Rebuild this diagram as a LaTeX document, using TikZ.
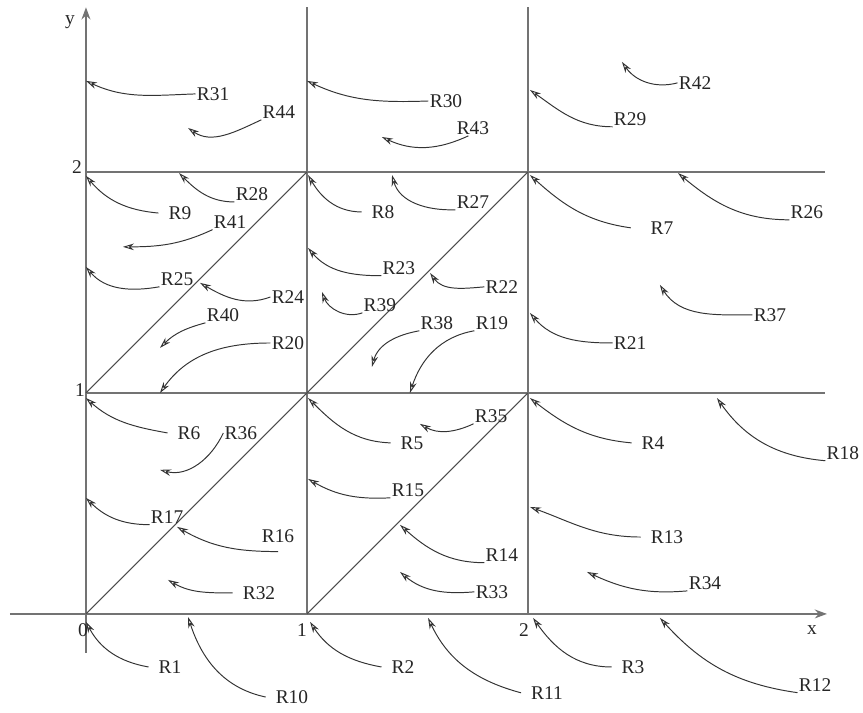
\documentclass[tikz,border=0pt]{standalone}
\usepackage{fontspec}
\setmainfont{Liberation Serif}
\usepackage{tikz}
\usetikzlibrary{arrows.meta}

\begin{document}
\begin{tikzpicture}[x=4cm, y=4cm, font=\normalsize,
  lab/.style={inner sep=0.5pt, text=black!85},
  labw/.style={lab, inner xsep=5pt},
  flow/.style={black!80, line width=0.5pt, -{Stealth[open, length=2mm, width=1.2mm]}},
  gridline/.style={black!55, line width=1pt},
  diag/.style={black!70, line width=0.5pt},
  axis/.style={gridline, -{Stealth[open, length=2.2mm, width=1.6mm]}}]
\useasboundingbox (-0.389,-0.448) rectangle (3.516,2.778);
% axes and grid
\draw[axis] (-0.344,0) -- (3.353,0);
\draw[axis] (0,-0.176) -- (0,2.745);
\draw[gridline] (1,0) -- (1,2.747);
\draw[gridline] (2,0) -- (2,2.747);
\draw[gridline] (0,1) -- (3.344,1);
\draw[gridline] (0,2) -- (3.344,2);
\draw[diag] (0,0) -- (1,1);
\draw[diag] (1,0) -- (2,1);
\draw[diag] (0,1) -- (1,2);
\draw[diag] (1,1) -- (2,2);
\node[lab] (lx) at (3.285,-0.072) {x};
\node[lab] (ly) at (-0.072,2.679) {y};
\node[lab] (o) at (-0.014,-0.072) {0};
\node[lab] (x1) at (0.977,-0.072) {1};
\node[lab] (x2) at (1.982,-0.072) {2};
\node[lab] (y1) at (-0.027,1.014) {1};
\node[lab] (y2) at (-0.041,2.023) {2};
% labels
\node[labw] (r1) at (0.380,-0.240) {R1};
\node[labw] (r2) at (1.434,-0.240) {R2};
\node[labw] (r3) at (2.475,-0.240) {R3};
\node[labw] (r4) at (2.566,0.774) {R4};
\node[labw] (r5) at (1.475,0.774) {R5};
\node[labw] (r6) at (0.466,0.819) {R6};
\node[labw, inner xsep=10pt] (r7) at (2.606,1.747) {R7};
\node[labw] (r8) at (1.344,1.819) {R8};
\node[labw] (r9) at (0.425,1.814) {R9};
\node[labw] (r10) at (0.932,-0.376) {R10};
\node[labw] (r11) at (2.086,-0.357) {R11};
\node[lab] (r12) at (3.299,-0.321) {R12};
\node[labw] (r13) at (2.629,0.348) {R13};
\node[lab] (r14) at (1.882,0.267) {R14};
\node[lab] (r15) at (1.457,0.561) {R15};
\node[lab] (r16) at (0.869,0.353) {R16};
\node[lab] (r17) at (0.367,0.439) {R17};
\node[lab] (r18) at (3.425,0.729) {R18};
\node[lab] (r19) at (1.837,1.317) {R19};
\node[lab] (r20) at (0.914,1.226) {R20};
\node[lab] (r21) at (2.462,1.226) {R21};
\node[lab] (r22) at (1.882,1.480) {R22};
\node[lab] (r23) at (1.416,1.566) {R23};
\node[lab] (r24) at (0.914,1.434) {R24};
\node[lab] (r25) at (0.412,1.516) {R25};
\node[lab] (r26) at (3.262,1.819) {R26};
\node[lab] (r27) at (1.751,1.864) {R27};
\node[lab] (r28) at (0.751,1.900) {R28};
\node[lab] (r29) at (2.462,2.240) {R29};
\node[lab] (r30) at (1.629,2.321) {R30};
\node[lab] (r31) at (0.575,2.353) {R31};
\node[labw] (r32) at (0.783,0.095) {R32};
\node[lab] (r33) at (1.837,0.100) {R33};
\node[lab] (r34) at (2.801,0.140) {R34};
\node[lab] (r35) at (1.833,0.896) {R35};
\node[lab] (r36) at (0.701,0.819) {R36};
\node[lab] (r37) at (3.095,1.353) {R37};
\node[lab] (r38) at (1.588,1.317) {R38};
\node[lab] (r39) at (1.330,1.398) {R39};
\node[lab] (r40) at (0.620,1.353) {R40};
\node[lab] (r41) at (0.652,1.774) {R41};
\node[lab] (r42) at (2.756,2.403) {R42};
\node[lab] (r43) at (1.751,2.199) {R43};
\node[lab] (r44) at (0.873,2.271) {R44};
% arrow tips
\coordinate (t1) at (0,-0.036);
\coordinate (t2) at (1.014,-0.036);
\coordinate (t3) at (2.023,-0.018);
\coordinate (t4) at (2.009,0.977);
\coordinate (t5) at (1.005,0.977);
\coordinate (t6) at (0,0.977);
\coordinate (t7) at (2.009,1.986);
\coordinate (t8) at (1.005,1.986);
\coordinate (t9) at (0,1.982);
\coordinate (t10) at (0.462,-0.014);
\coordinate (t11) at (1.548,-0.018);
\coordinate (t12) at (2.597,-0.018);
\coordinate (t13) at (2.009,0.484);
\coordinate (t14) at (1.421,0.403);
\coordinate (t15) at (1.005,0.611);
\coordinate (t16) at (0.412,0.394);
\coordinate (t17) at (0,0.525);
\coordinate (t18) at (2.855,0.977);
\coordinate (t19) at (1.466,1.000);
\coordinate (t20) at (0.335,1.000);
\coordinate (t21) at (2.009,1.362);
\coordinate (t22) at (1.557,1.543);
\coordinate (t23) at (1.005,1.656);
\coordinate (t24) at (0.516,1.498);
\coordinate (t25) at (0,1.570);
\coordinate (t26) at (2.679,1.995);
\coordinate (t27) at (1.385,1.986);
\coordinate (t28) at (0.421,1.995);
\coordinate (t29) at (2.009,2.371);
\coordinate (t30) at (1.000,2.412);
\coordinate (t31) at (0,2.412);
\coordinate (t32) at (0.371,0.154);
\coordinate (t33) at (1.421,0.190);
\coordinate (t34) at (2.267,0.190);
\coordinate (t35) at (1.511,0.860);
\coordinate (t36) at (0.335,0.652);
\coordinate (t37) at (2.597,1.489);
\coordinate (t38) at (1.294,1.118);
\coordinate (t39) at (1.068,1.457);
\coordinate (t40) at (0.335,1.204);
\coordinate (t41) at (0.167,1.661);
\coordinate (t42) at (2.425,2.498);
\coordinate (t43) at (1.339,2.158);
\coordinate (t44) at (0.462,2.199);
% trajectories
\draw[flow] (r1.west) to[out=170, in=-62] (t1);
\draw[flow] (r2.west) to[out=170, in=-57] (t2);
\draw[flow] (r3.west) to[out=180, in=-55] (t3);
\draw[flow] (r4.west) to[out=175, in=-38] (t4);
\draw[flow] (r5.west) to[out=178, in=-45] (t5);
\draw[flow] (r6.west) to[out=170, in=-42] (t6);
\draw[flow] (r7.west) to[out=172, in=-42] (t7);
\draw[flow] (r8.west) to[out=180, in=-60] (t8);
\draw[flow] (r9.west) to[out=175, in=-50] (t9);
\draw[flow] (r10.west) to[out=168, in=-72] (t10);
\draw[flow] (r11.west) to[out=165, in=-65] (t11);
\draw[flow] (r12.south west) to[out=172, in=-48] (t12);
\draw[flow] (r13.west) to[out=180, in=-20] (t13);
\draw[flow] (r14.south west) to[out=180, in=-42] (t14);
\draw[flow] (r15.south west) to[out=183, in=-30] (t15);
\draw[flow] ([yshift=-4pt]r16.south) to[out=180, in=-30] (t16);
\draw[flow] (r17.south west) to[out=180, in=-45] (t17);
\draw[flow] (r18.south west) to[out=175, in=-55] (t18);
\draw[flow] (r19.south west) to[out=190, in=72] (t19);
\draw[flow] (r20.west) to[out=180, in=55] (t20);
\draw[flow] (r21.west) to[out=180, in=-50] (t21);
\draw[flow] (r22.west) to[out=185, in=-55] (t22);
\draw[flow] (r23.south west) to[out=180, in=-50] (t23);
\draw[flow] (r24.west) to[out=200, in=-30] (t24);
\draw[flow] (r25.south west) to[out=190, in=-50] (t25);
\draw[flow] (r26.south west) to[out=180, in=-40] (t26);
\draw[flow] (r27.south west) to[out=182, in=-75] (t27);
\draw[flow] (r28.south west) to[out=180, in=-45] (t28);
\draw[flow] (r29.south west) to[out=180, in=-35] (t29);
\draw[flow] (r30.west) to[out=182, in=-25] (t30);
\draw[flow] (r31.west) to[out=182, in=-25] (t31);
\draw[flow] (r32.west) to[out=180, in=-30] (t32);
\draw[flow] (r33.west) to[out=185, in=-40] (t33);
\draw[flow] (r34.south west) to[out=185, in=-25] (t34);
\draw[flow] (r35.south west) to[out=205, in=-30] (t35);
\draw[flow] (r36.west) to[out=245, in=-15] (t36);
\draw[flow] (r37.west) to[out=180, in=-58] (t37);
\draw[flow] (r38.south west) to[out=190, in=75] (t38);
\draw[flow] (r39.south west) to[out=200, in=-70] (t39);
\draw[flow] (r40.south west) to[out=195, in=45] (t40);
\draw[flow] (r41.south west) to[out=205, in=0] (t41);
\draw[flow] (r42.west) to[out=195, in=-55] (t42);
\draw[flow] (r43.-120) to[out=205, in=-25] (t43);
\draw[flow] (r44.south west) to[out=205, in=-35] (t44);
\end{tikzpicture}
\end{document}
